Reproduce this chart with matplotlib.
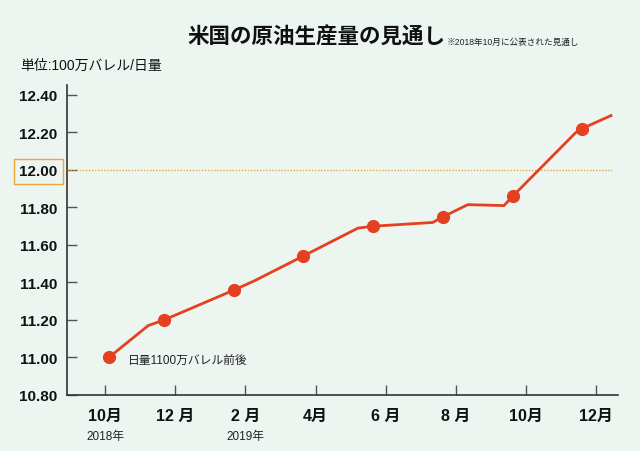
import matplotlib.pyplot as plt
from matplotlib.transforms import blended_transform_factory

plt.rcParams['font.family'] = ['Liberation Sans', 'Noto Sans CJK JP']

# line vertices (month index from Oct 2018, value in million barrels/day)
line_month = [0.11, 1.23, 1.68, 3.68, 4.27, 5.64, 7.21, 7.64, 9.34, 9.63,
              10.34, 11.37, 11.62, 13.42, 13.59, 14.42]
line_value = [11.00, 11.17, 11.20, 11.36, 11.41, 11.54, 11.69, 11.70, 11.72, 11.75,
              11.815, 11.81, 11.86, 12.20, 12.22, 12.29]

# highlighted points
marker_month = [0.11, 1.68, 3.68, 5.64, 7.64, 9.63, 11.62, 13.59]
marker_value = [11.00, 11.20, 11.36, 11.54, 11.70, 11.75, 11.86, 12.22]

tick_month = [0, 2, 4, 6, 8, 10, 12, 14]
tick_labels = ['10月', '12 月', '2 月', '4月', '6 月', '8 月', '10月', '12月']
year_month = [0, 4]
year_labels = ['2018年', '2019年']

y_ticks = [10.8, 11.0, 11.2, 11.4, 11.6, 11.8, 12.0, 12.2, 12.4]

bg = '#edf5f0'
red = '#e5401f'
orange = '#e8a83a'

fig = plt.figure(figsize=(6.4, 4.52), dpi=100, facecolor=bg)
ax = fig.add_axes([67/640, 1 - 396/452, 551/640, 310/452], facecolor=bg)

ax.plot(line_month, line_value, color=red, lw=2, zorder=3)
ax.plot(marker_month, marker_value, 'o', color=red, ms=8.5, zorder=4)
ax.axhline(12.0, color=orange, ls=(0, (1, 1.2)), lw=1, xmax=0.99, zorder=2)

ax.set_xlim(-1.083, 14.62)
ax.set_ylim(10.8, 12.453)

for s in ['top', 'right']:
    ax.spines[s].set_visible(False)
for s in ['left', 'bottom']:
    ax.spines[s].set_color('#333333')
    ax.spines[s].set_linewidth(1.2)

ax.set_yticks(y_ticks)
ax.set_yticklabels(['%.2f' % v for v in y_ticks])
ax.set_xticks(tick_month)
ax.set_xticklabels(tick_labels)
ax.tick_params(axis='y', direction='in', length=7, width=1, color='#555555',
               labelsize=11, pad=7)
ax.tick_params(axis='x', direction='in', length=7, width=1, color='#555555',
               labelsize=11.5, pad=9)
for lab in ax.get_yticklabels() + ax.get_xticklabels():
    lab.set_fontweight('bold')
    lab.set_color('#111111')

# box round 12.00
for lab in ax.get_yticklabels():
    if lab.get_text() == '12.00':
        lab.set_bbox(dict(boxstyle='square,pad=0.35', fc='none', ec=orange, lw=1))

trans = blended_transform_factory(ax.transData, ax.transAxes)
for m, t in zip(year_month, year_labels):
    ax.text(m, -0.132, t, transform=trans, ha='center', va='center',
            fontsize=8.5, color='#222222')

ax.text(0.65, 11.015, '日量1100万バレル前後', ha='left', va='top',
        fontsize=8.5, color='#222222')

fig.text(445/640, 1 - 37/452, '米国の原油生産量の見通し', ha='right', va='center',
         fontsize=15.5, fontweight='bold', color='#111111')
fig.text(447/640, 1 - 42/452, '※2018年10月に公表された見通し', ha='left', va='center',
         fontsize=6.2, color='#222222')
fig.text(20/640, 1 - 66/452, '単位:100万バレル/日量', ha='left', va='center',
         fontsize=10, color='#111111')

fig.savefig('out.png', dpi=100, facecolor=bg)
